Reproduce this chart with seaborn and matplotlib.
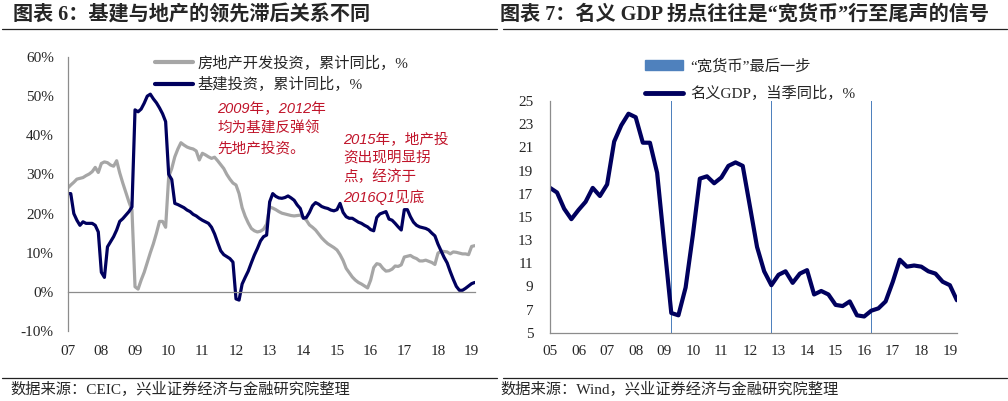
import numpy as np
import pandas as pd
import matplotlib
matplotlib.use("Agg")
import matplotlib.pyplot as plt
import seaborn as sns
from matplotlib.lines import Line2D
from matplotlib.patches import Patch

sns.set_theme(style="white")
plt.rcParams['font.family'] = ['Liberation Serif', 'Noto Sans CJK SC']
plt.rcParams['axes.unicode_minus'] = False

# %% data -- left panel: cumulative y/y, monthly Feb..Dec (no January), 2007-02 .. 2019-03
re_invest = [
    26.5, 27.3, 28.0, 28.8, 29.0, 29.2, 29.7, 30.1, 30.7, 31.8, 30.5,   # 2007
    32.8, 33.2, 33.0, 32.4, 32.1, 33.5, 30.4, 27.8, 25.4, 23.0, 20.9,   # 2008
    1.3, 0.7, 3.0, 5.0, 7.5, 10.0, 12.3, 15.0, 18.0, 18.0, 16.5,        # 2009
    29.4, 31.5, 34.5, 36.5, 38.1, 37.5, 37.0, 36.7, 36.5, 36.0, 33.7,   # 2010
    35.4, 35.0, 34.5, 34.1, 34.4, 33.5, 32.5, 31.5, 30.0, 28.8, 27.8,   # 2011
    27.3, 25.1, 21.5, 19.3, 17.6, 16.2, 15.6, 15.3, 15.5, 16.0, 17.3,   # 2012
    21.7, 21.4, 21.0, 20.5, 20.1, 19.9, 19.7, 19.5, 19.4, 19.5, 19.6,   # 2013
    19.0, 18.3, 17.1, 16.5, 15.8, 14.8, 13.8, 13.0, 12.3, 11.8, 11.3,   # 2014
    10.7, 9.5, 8.0, 6.0, 4.9, 3.8, 3.0, 2.4, 2.0, 1.5, 1.0,             # 2015
    3.0, 6.2, 7.2, 7.0, 6.0, 5.3, 5.4, 5.8, 6.6, 6.5, 6.9,              # 2016
    8.9, 9.1, 9.3, 8.8, 8.5, 7.9, 7.9, 8.1, 7.8, 7.5, 7.0,              # 2017
    9.9, 10.4, 10.3, 10.2, 9.7, 10.2, 10.1, 9.9, 9.7, 9.7, 9.5,         # 2018
    11.6, 11.8,                                                         # 2019
]
infra_invest = [
    25.1, 25.1, 20.0, 18.3, 17.0, 17.9, 17.5, 17.5, 17.5, 17.0, 15.3,   # 2007
    5.0, 3.7, 11.5, 12.8, 14.1, 15.8, 18.0, 18.7, 19.6, 20.5, 21.7,     # 2008
    46.5, 46.0, 46.7, 48.2, 50.0, 50.5, 49.3, 48.3, 47.0, 45.5, 43.5,   # 2009
    30.0, 28.7, 22.6, 22.3, 21.9, 21.5, 20.9, 20.5, 19.8, 19.4, 18.8,   # 2010
    18.3, 17.9, 17.5, 16.5, 14.8, 12.6, 10.5, 9.5, 9.0, 8.5, 7.6,       # 2011
    -1.8, -2.1, 2.0, 3.7, 5.3, 7.4, 9.4, 11.1, 13.0, 14.1, 14.5,        # 2012
    23.0, 25.1, 24.4, 24.0, 23.9, 24.1, 24.5, 24.0, 23.4, 22.2, 21.3,   # 2013
    18.8, 19.0, 20.3, 22.0, 22.8, 22.4, 21.8, 21.5, 21.3, 20.9, 20.7,   # 2014
    21.0, 22.6, 20.3, 19.2, 18.8, 18.8, 18.3, 17.8, 17.5, 17.0, 16.6,   # 2015
    15.9, 15.6, 19.0, 19.9, 20.2, 20.5, 18.6, 18.3, 17.5, 16.6, 15.8,   # 2016
    21.0, 21.0, 19.2, 17.8, 17.0, 16.6, 16.4, 16.2, 15.8, 15.0, 14.3,   # 2017
    12.2, 10.5, 8.8, 7.4, 5.2, 3.2, 1.4, 0.4, 0.4, 0.9, 1.5,            # 2018
    2.1, 2.4,                                                           # 2019
]
left_years = list(range(2007, 2020))
left_yticks = [-10, 0, 10, 20, 30, 40, 50, 60]

# %% data -- right panel: nominal GDP, quarterly y/y, 2004Q4 .. 2019Q1
gdp_start, gdp_end = "2004Q4", "2019Q1"
gdp_nominal = [
    17.5,
    17.1, 15.7, 14.8, 15.6,     # 2005
    16.3, 17.5, 16.8, 17.8,     # 2006
    21.5, 22.9, 23.9, 23.6,     # 2007
    21.4, 21.4, 18.8, 12.6,     # 2008
    6.7, 6.5, 8.9, 13.4,        # 2009
    18.3, 18.5, 17.9, 18.4,     # 2010
    19.4, 19.7, 19.4, 15.9,     # 2011
    12.4, 10.3, 9.1, 10.0,      # 2012
    10.3, 9.3, 10.1, 10.4,      # 2013
    8.3, 8.6, 8.3, 7.4,         # 2014
    7.3, 7.7, 6.5, 6.4,         # 2015
    6.9, 7.1, 7.7, 9.4,         # 2016
    11.3, 10.7, 10.8, 10.7,     # 2017
    10.3, 10.1, 9.4, 9.1,       # 2018
    7.8,                        # 2019
]
easing_last = ["2009Q1", "2012Q3", "2016Q1"]
right_years = list(range(2005, 2020))
right_yticks = list(range(5, 26, 2))

NAVY = "#00005e"
GRAY = "#a6a6a6"
BLUE = "#4f81bd"
RED = "#c0142a"
AXC = "#8c8c8c"

# monthly positions: 11 categories per year (Feb..Dec)
months = [(y, m) for y in left_years for m in range(2, 13)][:len(re_invest)]
xm = [y + (m - 2) / 11 for y, m in months]
df_left = pd.DataFrame({
    "x": xm * 2,
    "v": re_invest + infra_invest,
    "s": ["房地产开发投资，累计同比，%"] * len(xm) + ["基建投资，累计同比，%"] * len(xm),
})


def qpos(p):
    t = p.end_time
    return t.year + t.dayofyear / 365.0


gq = pd.period_range(gdp_start, gdp_end, freq="Q")
df_right = pd.DataFrame({"x": [qpos(p) for p in gq], "v": gdp_nominal})
bar_x = [qpos(pd.Period(q, freq="Q")) for q in easing_last]

fig = plt.figure(figsize=(10.08, 4.01), dpi=100)
W, H = 1008, 401


def fx(px):
    return px / W


def fy(py):
    return 1 - py / H


# ---------- left panel
ax1 = fig.add_axes([fx(67.7), fy(331), fx(475) - fx(67.7), fy(57) - fy(331)])
sns.lineplot(data=df_left, x="x", y="v", hue="s", palette=[GRAY, NAVY],
             linewidth=2.3, ax=ax1, legend=False, sort=False)
ax1.set_xlim(2007, 2019.1)
ax1.set_ylim(-10, 60)
ax1.set_xlabel("")
ax1.set_ylabel("")
for s in ["top", "right"]:
    ax1.spines[s].set_visible(False)
ax1.spines["bottom"].set_position(("data", 0))
for s in ["left", "bottom"]:
    ax1.spines[s].set_color(AXC)
    ax1.spines[s].set_linewidth(0.9)
ax1.set_xticks(left_years)
ax1.set_xticklabels([f"{y % 100:02d}" for y in left_years])
ax1.set_yticks(left_yticks)
ax1.set_yticklabels([f"{v}%" for v in left_yticks])
ax1.tick_params(axis="x", direction="in", length=4, width=0.9, color=AXC,
                pad=38, labelsize=11)
ax1.tick_params(axis="y", direction="in", length=4, width=0.9, color=AXC,
                pad=10, labelsize=11)
ax1.legend(handles=[Line2D([], [], color=GRAY, lw=3), Line2D([], [], color=NAVY, lw=3)],
           labels=["房地产开发投资，累计同比，%", "基建投资，累计同比，%"],
           loc="upper left", bbox_to_anchor=(fx(147), fy(48)), bbox_transform=fig.transFigure,
           frameon=False, borderpad=0, handlelength=2.5, handletextpad=0.3,
           labelspacing=0.4, fontsize=11)

fig.text(fx(217), fy(102), "2009年，2012年\n均为基建反弹领\n先地产投资。",
         color=RED, fontsize=10.5, style="italic", va="top", ha="left", linespacing=1.5,
         family=["Liberation Sans", "Noto Sans CJK SC"])
fig.text(fx(343), fy(132), "2015年，地产投\n资出现明显拐\n点，经济于\n2016Q1见底",
         color=RED, fontsize=10.5, style="italic", va="top", ha="left", linespacing=1.42,
         family=["Liberation Sans", "Noto Sans CJK SC"])

# ---------- right panel
ax2 = fig.add_axes([fx(550), fy(332.7), fx(957) - fx(550), fy(101) - fy(332.7)])
ax2.bar(bar_x, [25] * len(bar_x), width=0.035, color=BLUE, linewidth=0)
sns.lineplot(data=df_right, x="x", y="v", color=NAVY, linewidth=3.0, ax=ax2, sort=False)
ax2.set_xlim(2005, 2019.25)
ax2.set_ylim(5, 25)
ax2.set_xlabel("")
ax2.set_ylabel("")
for s in ["top", "right"]:
    ax2.spines[s].set_visible(False)
for s in ["left", "bottom"]:
    ax2.spines[s].set_color(AXC)
    ax2.spines[s].set_linewidth(0.9)
ax2.set_xticks(right_years)
ax2.set_xticklabels([f"{y % 100:02d}" for y in right_years])
ax2.set_yticks(right_yticks)
ax2.set_yticklabels([str(v) for v in right_yticks])
ax2.tick_params(axis="x", direction="in", length=4, width=0.9, color=AXC,
                pad=9, labelsize=11)
ax2.tick_params(axis="y", direction="in", length=4, width=0.9, color=AXC,
                pad=12, labelsize=11)
ax2.legend(handles=[Patch(color=BLUE), Line2D([], [], color=NAVY, lw=3.5)],
           labels=["“宽货币”最后一步", "名义GDP，当季同比，%"],
           loc="upper left", bbox_to_anchor=(fx(637), fy(51)), bbox_transform=fig.transFigure,
           frameon=False, borderpad=0, handlelength=2.5, handletextpad=0.5,
           labelspacing=0.85, fontsize=11)

# ---------- titles, rules, sources
fig.text(fx(13), fy(15), "图表 6：基建与地产的领先滞后关系不同", fontsize=14.5,
         fontweight="bold", va="center", ha="left")
fig.text(fx(500), fy(15), "图表 7：名义 GDP 拐点往往是“宽货币”行至尾声的信号", fontsize=14.5,
         fontweight="bold", va="center", ha="left")
for x0, x1 in [(2, 497), (503, 1007)]:
    fig.add_artist(Line2D([fx(x0), fx(x1)], [fy(28.5), fy(28.5)], color="#222222", lw=0.9))
    fig.add_artist(Line2D([fx(x0), fx(x1)], [fy(378), fy(378)], color="#222222", lw=0.9))
fig.text(fx(10), fy(389), "数据来源：CEIC，兴业证券经济与金融研究院整理", fontsize=11,
         va="center", ha="left")
fig.text(fx(500), fy(389), "数据来源：Wind，兴业证券经济与金融研究院整理", fontsize=11,
         va="center", ha="left")

fig.savefig("out.png", dpi=100)
